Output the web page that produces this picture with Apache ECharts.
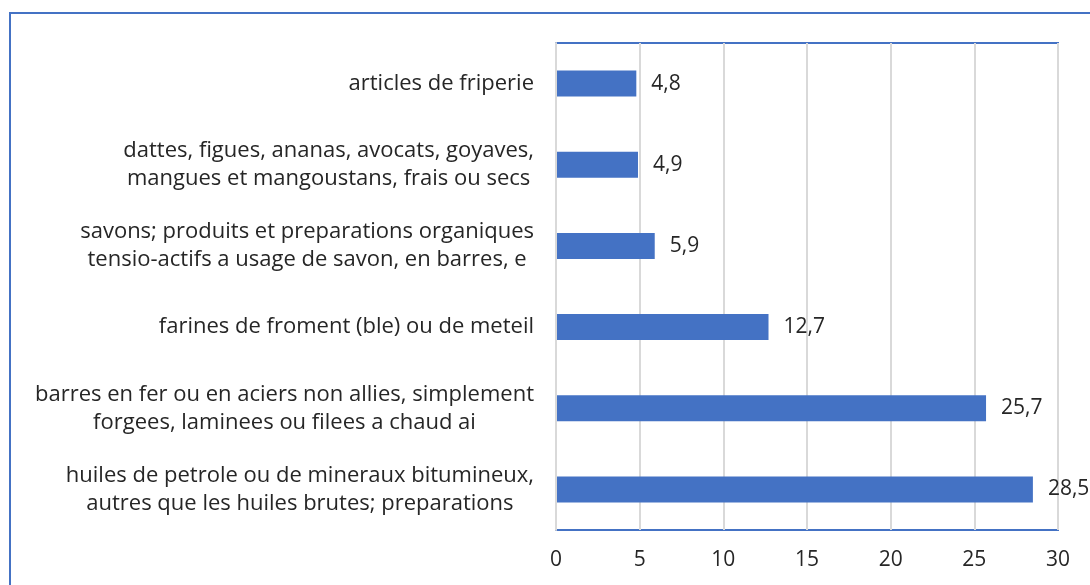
<!DOCTYPE html>
<html>
<head>
<meta charset="utf-8">
<script src="https://cdn.jsdelivr.net/npm/echarts@6/dist/echarts.min.js"></script>
<style>
  html, body { margin: 0; padding: 0; background: #fff; }
  #chart { width: 1090px; height: 585px; }
</style>
</head>
<body>
<div id="chart"></div>
<script>
  // categories, top to bottom
  var categories = [
    'articles de friperie',
    'dattes, figues, ananas, avocats, goyaves,\nmangues et mangoustans, frais ou secs',
    'savons; produits et preparations organiques\ntensio-actifs a usage de savon, en barres, e',
    'farines de froment (ble) ou de meteil',
    'barres en fer ou en aciers non allies, simplement\nforgees, laminees ou filees a chaud ai',
    'huiles de petrole ou de mineraux bitumineux,\nautres que les huiles brutes; preparations'
  ]
  var values = [4.8, 4.9, 5.9, 12.7, 25.7, 28.5]

  var blue = '#4472C4'
  var textColor = '#262626'
  var font = 'Open Sans'

  var chart = echarts.init(document.getElementById('chart'))
  chart.setOption({
    animation: false,
    graphic: [
      {
        type: 'rect',
        shape: { x: 10, y: 13, width: 1200, height: 700 },
        style: { fill: null, stroke: blue, lineWidth: 2 },
        silent: true
      }
    ],
    grid: {
      left: 556,
      top: 43,
      right: 32,
      bottom: 55,
      show: true,
      borderColor: blue,
      borderWidth: 2
    },
    xAxis: {
      type: 'value',
      min: 0,
      max: 30,
      interval: 5,
      axisLine: { show: false },
      axisTick: { show: false },
      splitLine: { lineStyle: { color: '#d9d9d9', width: 2 } },
      axisLabel: {
        margin: 20,
        color: textColor,
        fontFamily: font,
        fontSize: 21
      }
    },
    yAxis: {
      type: 'category',
      inverse: true,
      data: categories,
      z: 5,
      axisLine: { show: true, lineStyle: { color: '#d9d9d9', width: 2 } },
      axisTick: { show: false },
      axisLabel: {
        margin: 22,
        align: 'right',
        color: textColor,
        fontFamily: font,
        fontSize: 22,
        lineHeight: 28,
        formatter: function (v) {
          return v.split('\n').map(function (s) { return '{c|' + s + '}' }).join('\n')
        },
        rich: {
          c: { align: 'center', color: textColor, fontFamily: font, fontSize: 22, lineHeight: 28 }
        }
      }
    },
    series: [
      {
        type: 'bar',
        data: values,
        barWidth: 26,
        itemStyle: { color: blue },
        label: {
          show: true,
          position: 'right',
          distance: 15,
          color: textColor,
          fontFamily: font,
          fontSize: 21,
          formatter: function (p) { return String(p.value).replace('.', ',') }
        }
      }
    ]
  })
</script>
</body>
</html>
